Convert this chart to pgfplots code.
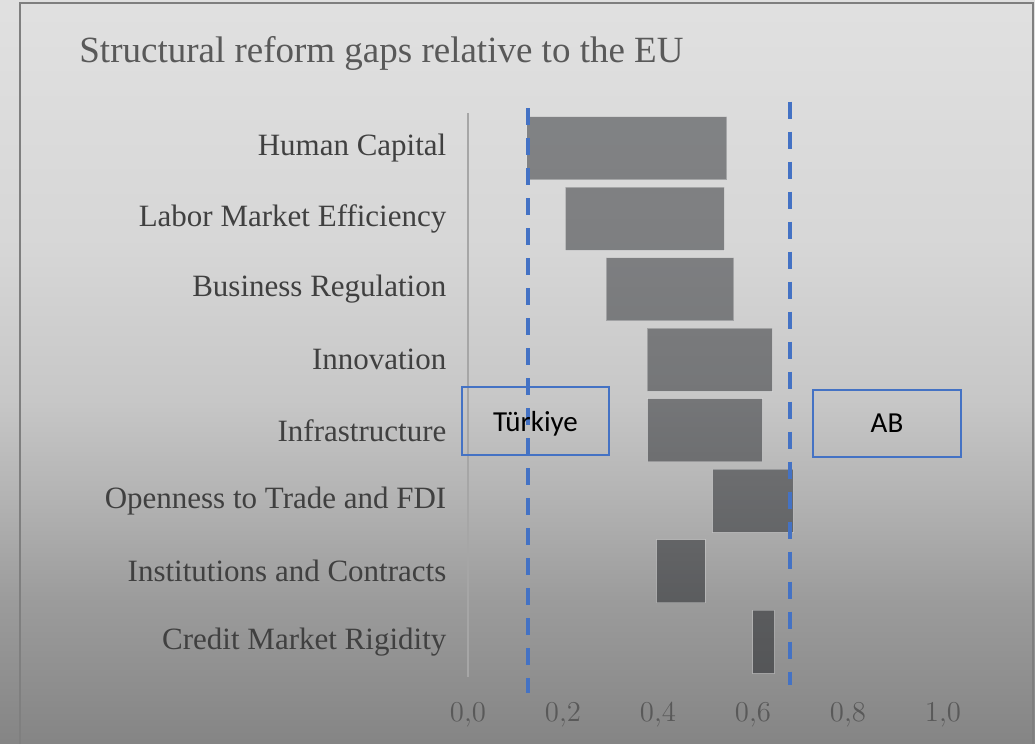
\documentclass[border=0pt]{standalone}
\usepackage{fontspec}
\setmainfont{Liberation Serif}
\newfontfamily\boxfont{Carlito}
\usepackage{pgfplots}
\usepackage{pgfplotstable}
\pgfplotsset{compat=1.18}

\definecolor{refblue}{HTML}{4472C4}
\definecolor{axisgray}{HTML}{A6A6A6}
\definecolor{labelgray}{HTML}{404040}
\definecolor{tickgray}{HTML}{595959}
\definecolor{titlegray}{HTML}{595959}
\definecolor{barfill}{HTML}{000308}
\definecolor{framegray}{HTML}{7F7F7F}

% page background: light at the top, darker towards the bottom
% (tikz maps the path onto 25bp..75bp of the shading)
\pgfdeclareverticalshading{bgshade}{100bp}{%
  color(0bp)=(black!48); color(25bp)=(black!48);
  color(34.7bp)=(black!39); color(41.4bp)=(black!30);
  color(48.1bp)=(black!22); color(58.2bp)=(black!16);
  color(75bp)=(black!12); color(100bp)=(black!12)}

% one row per category, top to bottom: where the gap starts and ends
\pgfplotstableread{
idx start end
0 0.124 0.545
1 0.205 0.540
2 0.291 0.560
3 0.377 0.641
4 0.378 0.620
5 0.515 0.685
6 0.397 0.499
7 0.600 0.645
}\gaps

\begin{document}
\begin{tikzpicture}
\shade[shading=bgshade] (-234pt,-33.5pt) rectangle (283.5pt,338.5pt);
\draw[framegray, line width=0.9pt] (-224pt,-33.5pt) -- (-224pt,337pt) -- (282.5pt,337pt) -- (282.5pt,-33.5pt);

\begin{axis}[
    scale only axis,
    width=237.5pt, height=282pt,
    xmin=0, xmax=1, ymin=-0.5, ymax=7.5,
    y dir=reverse,
    bar width=0.9,
    clip=false,
    axis line style={draw=none},
    major tick length=0pt,
    xtick={0,0.2,0.4,0.6,0.8,1.0},
    ytick={0,...,7},
    yticklabels={Human Capital, Labor Market Efficiency, Business Regulation, Innovation,
      Infrastructure, Openness to Trade and FDI, Institutions and Contracts, Credit Market Rigidity},
    xticklabel style={font=\fontsize{15}{15}\selectfont, text=tickgray, anchor=center, yshift=-19pt,
      /pgf/number format/.cd, fixed, fixed zerofill, precision=1, use comma},
    yticklabel style={font=\fontsize{15.5}{15.5}\selectfont, text=labelgray, xshift=-7.3pt},
]
\draw[axisgray, line width=0.8pt] (rel axis cs:0,0) -- (rel axis cs:0,1);

% invisible offset, then the visible gap on top of it
% (half-transparent fill, so the bars darken with the background)
\addplot[xbar stacked, draw=none, fill=none, forget plot]
  table[x=start, y=idx] {\gaps};
\addplot[xbar stacked, fill=barfill, fill opacity=0.41, draw=white, draw opacity=0.3, line width=0.5pt]
  table[x expr=\thisrow{end}-\thisrow{start}, y=idx] {\gaps};

% Turkey and EU reference levels
\addplot[sharp plot, no marks, refblue, line width=2pt, dash pattern=on 8.5pt off 6.5pt, forget plot]
  coordinates {(0.126,-0.57) (0.126,7.73)};
\addplot[sharp plot, no marks, refblue, line width=2pt, dash pattern=on 8.5pt off 6.5pt, forget plot]
  coordinates {(0.678,-0.66) (0.678,7.61)};
\end{axis}

\node[anchor=west, text=titlegray, font=\fontsize{18.5}{18.5}\selectfont, inner sep=0pt]
  at (-194.5pt,312pt) {Structural reform gaps relative to the EU};

\node[draw=refblue, line width=1pt, minimum width=73.5pt, minimum height=34pt, text depth=0pt,
  font=\boxfont\fontsize{14.5}{14.5}\selectfont] at (33.75pt,128pt) {Türkiye};
\node[draw=refblue, line width=1pt, minimum width=74pt, minimum height=33.5pt, text depth=0pt,
  font=\boxfont\fontsize{14.5}{14.5}\selectfont] at (209.5pt,126.75pt) {AB};

\pgfresetboundingbox
\path (-234pt,-33.5pt) rectangle (283.5pt,338.5pt);
\end{tikzpicture}
\end{document}
